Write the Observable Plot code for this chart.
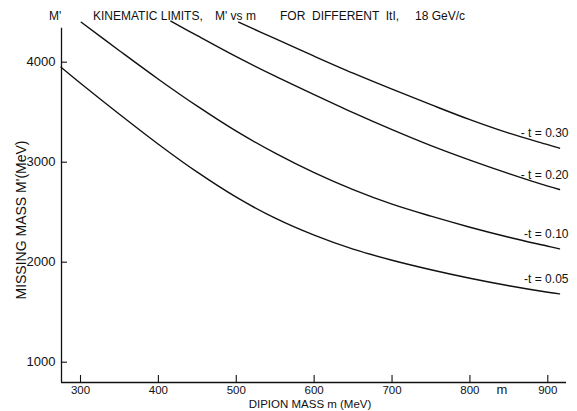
<!DOCTYPE html>
<html><head><meta charset="utf-8">
<script src="https://cdn.jsdelivr.net/npm/d3@7"></script>
<script src="https://cdn.jsdelivr.net/npm/@observablehq/plot@0.6"></script>
<style>
html,body{margin:0;padding:0;background:#fff;}
#chart{width:577px;height:411px;}
</style></head><body><div id="chart"></div>
<script>
// ---- data ----
const xTicks = [300, 400, 500, 600, 700, 800, 900];
const yTicks = [1000, 2000, 3000, 4000];
const xDomain = [275.6, 924];
const yDomain = [797, 4617];
const yAxisTop = 4340;

const m_t005 = [275, 300, 350, 400, 450, 500, 550, 600, 650, 700, 750, 800, 850, 900, 915];
const M_t005 = [3950, 3790, 3480, 3180, 2900, 2650, 2440, 2270, 2130, 2020, 1925, 1840, 1765, 1700, 1683];
const m_t010 = [301, 350, 400, 450, 500, 550, 600, 650, 700, 750, 800, 850, 900, 915];
const M_t010 = [4400, 4115, 3830, 3560, 3310, 3090, 2895, 2725, 2580, 2460, 2350, 2250, 2160, 2133];
const m_t020 = [416, 450, 500, 550, 600, 650, 700, 750, 800, 850, 900, 915];
const M_t020 = [4410, 4265, 4055, 3860, 3675, 3495, 3325, 3165, 3020, 2885, 2760, 2727];
const m_t030 = [503, 550, 600, 650, 700, 750, 800, 850, 900, 915];
const M_t030 = [4400, 4235, 4060, 3890, 3730, 3575, 3425, 3290, 3175, 3140];
const tLabels = ["-t = 0.05", "-t = 0.10", "- t = 0.20", "- t = 0.30"];

const titleParts = ["KINEMATIC LIMITS,", "M' vs m", "FOR  DIFFERENT  ItI,", "18 GeV/c"];
const yTopLabel = "M'";
const yLabel = "MISSING MASS M'(MeV)";
const xLabel = "DIPION MASS m (MeV)";
const xEndLabel = "m";

// ---- build ----
const series = [[m_t005, M_t005], [m_t010, M_t010], [m_t020, M_t020], [m_t030, M_t030]];
const rows = series.flatMap(([ms, Ms], k) => ms.map((m, i) => ({m, M: Ms[i], t: tLabels[k]})));
const ends = series.map(([ms, Ms], k) => ({m: ms[ms.length - 1], M: Ms[Ms.length - 1], label: tLabels[k]}));

const font = "'Liberation Sans', Arial, sans-serif";
const ink = "#111";

const plot = Plot.plot({
  width: 577, height: 411,
  marginLeft: 61, marginRight: 11, marginTop: 0, marginBottom: 29,
  style: {fontFamily: font, fontSize: "12px", color: ink, background: "#fff"},
  x: {domain: xDomain},
  y: {domain: yDomain},
  marks: [
    Plot.ruleX([xDomain[0]], {y1: yDomain[0], y2: yAxisTop, stroke: ink, strokeWidth: 1.3}),
    Plot.ruleY([yDomain[0]], {stroke: ink, strokeWidth: 1.3}),
    Plot.ruleX(xTicks, {y1: yDomain[0], y2: yDomain[0], insetBottom: 7, stroke: ink, strokeWidth: 1.1}),
    Plot.ruleY(yTicks, {x1: xDomain[0], x2: xDomain[0], insetLeft: 6, stroke: ink, strokeWidth: 1.1}),
    Plot.axisX(xTicks, {tickSize: 0, tickPadding: 3, tickFormat: "d", label: null, fontSize: 11.5}),
    Plot.axisY(yTicks, {tickSize: 0, tickPadding: 6, tickFormat: "d", label: null, fontSize: 13}),
    Plot.line(rows, {x: "m", y: "M", z: "t", curve: "catmull-rom", stroke: ink, strokeWidth: 1.4}),
    Plot.text(ends, {x: "m", y: "M", text: "label", textAnchor: "end", lineAnchor: "bottom", dx: 9, dy: -11, fontSize: 12, fill: ink})
  ]
});
document.getElementById("chart").appendChild(plot);

const svg = d3.select(plot);
const g = svg.append("g").attr("fill", ink).attr("text-anchor", "start").style("font-family", font);
g.append("text").attr("x", 49).attr("y", 20).attr("font-size", 12).text(yTopLabel);
const titleX = [93, 215, 280, 415];
titleParts.forEach((s, i) => {
  g.append("text").attr("x", titleX[i]).attr("y", 20).attr("font-size", 12)
    .style("white-space", "pre").attr("xml:space", "preserve").text(s);
});
g.append("text").attr("transform", "translate(26,220) rotate(-90)")
  .attr("text-anchor", "middle").attr("font-size", 14).text(yLabel);
g.append("text").attr("x", 310).attr("y", 408).attr("text-anchor", "middle")
  .attr("font-size", 11.5).text(xLabel);
g.append("text").attr("x", 502).attr("y", 394).attr("text-anchor", "middle")
  .attr("font-size", 13).text(xEndLabel);
</script>
</body></html>
